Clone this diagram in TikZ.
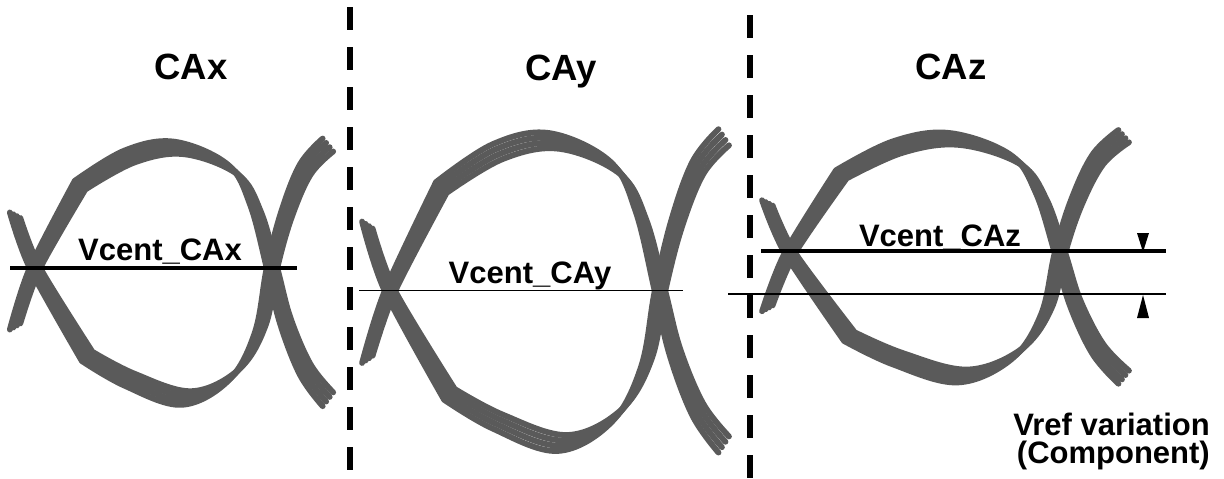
\documentclass[tikz,border=0pt]{standalone}
\usepackage{fontspec}
\setmainfont{Liberation Sans}
\definecolor{tracegray}{RGB}{90,90,90}
\tikzset{
  trace/.style={draw=tracegray, line width=5.8pt, line join=round, line cap=round},
  divider/.style={draw=black, line width=5.5pt, dash pattern=on 23pt off 17pt},
  thickref/.style={draw=black, line width=4pt},
  thinref/.style={draw=black, line width=1.2pt},
  title/.style={font=\bfseries\fontsize{36.5}{40}\selectfont, inner sep=0pt, anchor=base},
  lbl/.style={font=\bfseries\fontsize{31}{33}\selectfont, inner sep=0pt, anchor=base},
  marker/.style={fill=black, draw=none}
}
\newcommand{\ept}[3]{\coordinate (#1) at ({\ex+(#2)*\esx},{\ey+(#3)*((#3)<0?\est:\esb)});}
\newcommand{\eyepanel}[5]{%
  \foreach \k in {0,1,2,3}{%
    \pgfmathsetmacro{\ex}{#1-3.5*(\k-1.5)}%
    \pgfmathsetmacro{\esx}{#3/100}%
    \pgfmathsetmacro{\est}{#4/100*(1+0.035*(\k-1.5))}%
    \pgfmathsetmacro{\esb}{#5/100*(1+0.035*(\k-1.5))}%
    \def\ey{#2}%
    \ept{a1}{-8.4}{45}\ept{a2}{0}{0}\ept{a3}{19}{-69}\ept{a4}{40}{-93}\ept{a5}{61}{-100}%
    \ept{a6}{83.5}{-82}\ept{a7}{93}{-50}\ept{a8}{100}{0}\ept{a9}{105.5}{40}\ept{a10}{114}{78}\ept{a11}{123.6}{101}%
    \ept{b1}{-8.4}{-44}\ept{b2}{0}{0}\ept{b3}{22}{68}\ept{b4}{40}{86}\ept{b5}{64}{100}%
    \ept{b6}{84}{82}\ept{b7}{95}{47}\ept{b8}{100}{0}\ept{b9}{106}{-44}\ept{b10}{114}{-82}\ept{b11}{123.6}{-102.5}%
    \draw[trace] plot[smooth,tension=0.5] coordinates {(a1) (a2) (a3)}
       -- plot[smooth,tension=0.6] coordinates {(a3) (a4) (a5) (a6) (a7) (a8) (a9) (a10) (a11)};
    \draw[trace] plot[smooth,tension=0.5] coordinates {(b1) (b2) (b3)}
       -- plot[smooth,tension=0.6] coordinates {(b3) (b4) (b5) (b6) (b7) (b8) (b9) (b10) (b11)};
  }%
}
\begin{document}
\begin{tikzpicture}[x=1pt,y=-1pt]
\useasboundingbox (0,0) rectangle (1224,479);
% dividers
\coordinate (d1t) at (350,7); \coordinate (d1b) at (350,479);
\coordinate (d2t) at (750,15); \coordinate (d2b) at (750,479);
\draw[divider] (d1t) -- (d1b);
\draw[divider] (d2t) -- (d2b);
% titles
\node[title] (tx) at (191,79) {CAx};
\node[title] (ty) at (561,80) {CAy};
\node[title] (tz) at (951,79) {CAz};
% eyes
\eyepanel{35}{268}{237}{120}{130}
\eyepanel{390}{291}{270}{150}{152}
\eyepanel{790}{253}{270}{114}{123}
% reference lines
\coordinate (r1a) at (10,268); \coordinate (r1b) at (297,268);
\draw[thickref] (r1a) -- (r1b);
\coordinate (r2a) at (359,290.5); \coordinate (r2b) at (683,290.5);
\draw[thinref] (r2a) -- (r2b);
\coordinate (r3a) at (761,251); \coordinate (r3b) at (1166,251);
\draw[thickref] (r3a) -- (r3b);
\coordinate (r4a) at (728,294); \coordinate (r4b) at (1166,294);
\draw[thinref] (r4a) -- (r4b);
% labels
\node[lbl] (vx) at (160,260) {Vcent\_CAx};
\node[lbl] (vy) at (530,283) {Vcent\_CAy};
\node[lbl] (vz) at (940,246) {Vcent\_CAz};
% markers
\fill[marker] (1137,233) -- (1149,233) -- (1143,252) -- cycle;
\fill[marker] (1137,318) -- (1149,318) -- (1143,295) -- cycle;
\node[lbl, anchor=base east] (vr1) at (1210,435) {Vref variation};
\node[lbl, anchor=base east] (vr2) at (1210,463) {(Component)};
\end{tikzpicture}
\end{document}
